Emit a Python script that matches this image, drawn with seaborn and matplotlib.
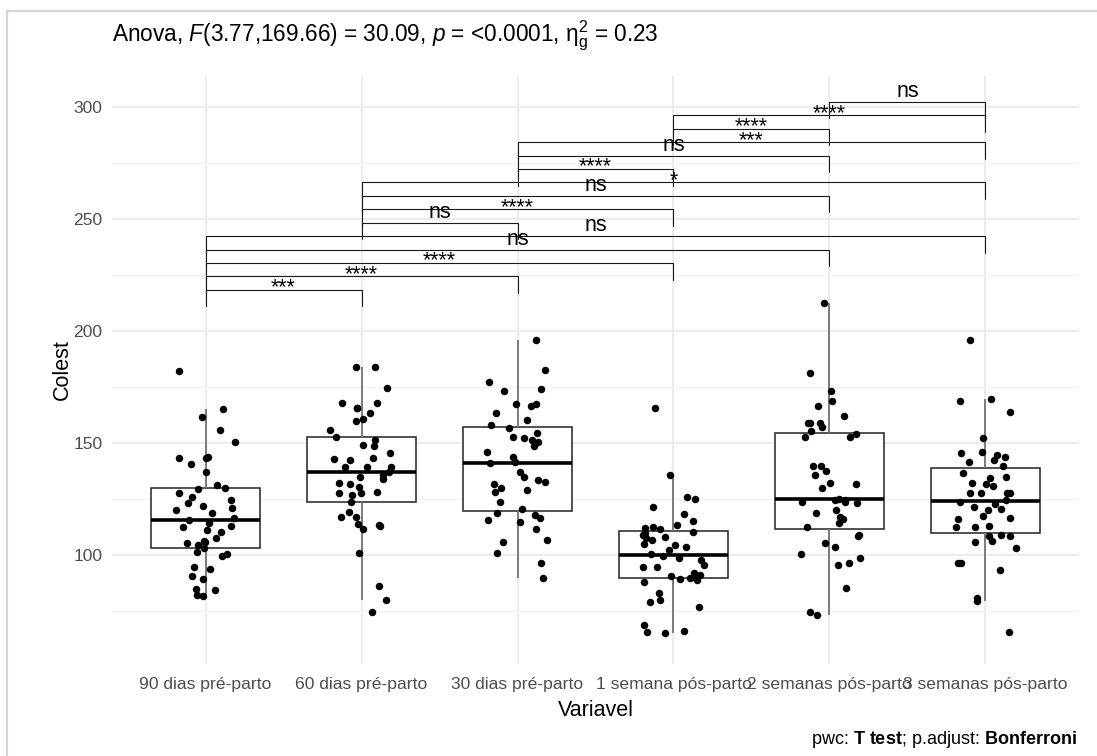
import numpy as np
import pandas as pd
import matplotlib
matplotlib.use("Agg")
import matplotlib.pyplot as plt
import seaborn as sns
from matplotlib.lines import Line2D

# ---- data -------------------------------------------------------------
groups = ["90 dias pré-parto", "60 dias pré-parto", "30 dias pré-parto",
          "1 semana pós-parto", "2 semanas pós-parto", "3 semanas pós-parto"]

colest_90_pre = [182.3, 165.2, 161.5, 155.8, 150.4, 143.5, 143.2, 143.2, 140.6,
                 136.8, 131.3, 129.8, 129.3, 127.5, 126.0, 124.3, 123.1, 121.9,
                 120.8, 120.1, 118.9, 116.4, 115.6, 114.4, 112.9, 112.6, 110.9,
                 110.4, 107.4, 106.4, 105.5, 105.9, 104.5, 103.0, 101.5, 100.3,
                 99.3, 94.5, 93.6, 90.6, 89.1, 84.7, 84.4, 82.1, 81.8]

colest_60_pre = [184.1, 184.1, 174.4, 168.0, 168.0, 165.8, 165.8, 163.2, 160.7,
                 160.0, 155.8, 152.5, 151.3, 149.1, 148.7, 145.4, 143.2, 142.7,
                 142.4, 139.1, 139.1, 139.1, 137.2, 135.7, 135.0, 133.8, 132.3,
                 131.7, 130.5, 128.3, 127.8, 127.5, 126.8, 123.4, 119.3, 117.1,
                 117.1, 113.8, 113.4, 112.9, 111.5, 100.7, 85.9, 79.9, 74.3]

colest_30_pre = [196.0, 182.6, 177.4, 174.0, 173.2, 167.4, 167.4, 166.5, 163.5,
                 160.3, 158.0, 156.5, 154.6, 152.8, 152.1, 151.3, 150.6, 148.4,
                 146.1, 143.6, 141.7, 141.2, 136.8, 134.7, 133.5, 132.7, 131.7,
                 129.8, 129.0, 128.3, 123.8, 120.4, 118.9, 117.9, 116.4, 115.6,
                 114.9, 111.5, 106.7, 105.9, 100.7, 96.6, 89.6]

colest_1sem_pos = [165.8, 135.7, 125.7, 124.9, 121.6, 118.2, 115.3, 113.4, 112.6,
                   111.9, 111.5, 110.4, 109.7, 108.9, 108.2, 107.4, 106.7, 104.8,
                   104.5, 103.7, 102.2, 100.4, 99.3, 98.5, 97.8, 95.5, 94.8, 94.8,
                   91.8, 91.1, 90.6, 89.6, 89.6, 89.1, 88.8, 88.1, 82.9, 79.9,
                   79.2, 76.6, 68.7, 66.2, 65.8, 65.0]

colest_2sem_pos = [212.4, 181.4, 173.2, 168.5, 166.5, 162.2, 159.1, 158.8, 158.8,
                   157.3, 155.1, 154.0, 152.8, 152.5, 139.7, 139.7, 137.6, 135.7,
                   132.0, 131.7, 129.8, 125.0, 124.6, 124.6, 123.8, 123.4, 123.1,
                   120.1, 118.9, 117.1, 116.0, 114.1, 112.6, 108.9, 108.5, 105.5,
                   103.7, 100.4, 98.5, 96.6, 95.5, 85.1, 74.3, 73.2]

colest_3sem_pos = [196.0, 169.5, 168.8, 164.0, 152.1, 146.1, 145.4, 144.6, 143.9,
                   142.4, 141.7, 139.7, 136.5, 135.0, 134.2, 132.3, 131.7, 130.8,
                   127.8, 127.8, 127.8, 127.8, 124.6, 123.4, 122.8, 121.6, 120.4,
                   120.1, 117.4, 116.4, 115.9, 112.9, 112.6, 112.4, 108.9, 108.5,
                   108.5, 106.4, 105.8, 103.0, 96.3, 96.3, 93.3, 80.7, 79.6, 65.8]

# pairwise t-tests (Bonferroni) between time points
comparisons = [(0, 1), (0, 2), (0, 3), (0, 4), (0, 5),
               (1, 2), (1, 3), (1, 4), (1, 5),
               (2, 3), (2, 4), (2, 5),
               (3, 4), (3, 5),
               (4, 5)]
p_signif = ["***", "****", "****", "ns", "ns",
            "ns", "****", "ns", "*",
            "****", "ns", "***",
            "****", "****",
            "ns"]
bracket_start = 218.3
bracket_step = 6.0
tip_length = 7.4

title_text = (r"Anova, $\mathit{F}$(3.77,169.66) = 30.09, $\mathit{p}$ = <0.0001, "
              r"$\mathrm{\eta}_\mathrm{g}^\mathrm{2}$ = 0.23")
caption_text = r"pwc: $\mathbf{T\ test}$; p.adjust: $\mathbf{Bonferroni}$"

series = [colest_90_pre, colest_60_pre, colest_30_pre,
          colest_1sem_pos, colest_2sem_pos, colest_3sem_pos]
df = pd.DataFrame({
    "Variavel": np.concatenate([[g] * len(v) for g, v in zip(groups, series)]),
    "Colest": np.concatenate(series),
})

# ---- style ------------------------------------------------------------
sns.set_theme(style="white")
plt.rcParams["font.family"] = ["Liberation Sans", "DejaVu Sans"]
plt.rcParams["mathtext.fontset"] = "custom"
plt.rcParams["mathtext.rm"] = "Liberation Sans"
plt.rcParams["mathtext.it"] = "Liberation Sans:italic"
plt.rcParams["mathtext.bf"] = "Liberation Sans:bold"

W, H = 1097, 756
fig = plt.figure(figsize=(W / 100, H / 100), dpi=100)
fig.patch.set_facecolor("white")

px_left, px_right, px_top, px_bottom = 112, 1079, 76, 664
ax = fig.add_axes([px_left / W, 1 - px_bottom / H,
                   (px_right - px_left) / W, (px_bottom - px_top) / H])

sns.boxplot(data=df, x="Variavel", y="Colest", order=groups, ax=ax,
            width=0.7, color="white", linecolor="#2b2b2b", linewidth=1.15,
            showfliers=False, showcaps=False,
            whiskerprops=dict(color="#7a7a7a", linewidth=1.4),
            medianprops=dict(color="black", linewidth=2.6),
            zorder=2)

np.random.seed(7)
sns.stripplot(data=df, x="Variavel", y="Colest", order=groups, ax=ax,
              color="black", size=5.4, jitter=0.2, linewidth=0, zorder=3)

ax.set_xlim(-0.6, 5.6)
ax.set_ylim(51.3, 313.8)
ax.set_yticks([100, 150, 200, 250, 300])
ax.set_yticks([75, 125, 175, 225, 275], minor=True)
ax.grid(which="major", color="#EBEBEB", linewidth=1.3)
ax.grid(which="minor", axis="y", color="#F2F2F2", linewidth=0.8)
ax.set_axisbelow(True)
for s in ax.spines.values():
    s.set_visible(False)
ax.tick_params(axis="both", which="both", length=0, colors="#4D4D4D",
               labelsize=12.6)
ax.tick_params(axis="y", pad=7)
ax.tick_params(axis="x", pad=9)
ax.set_xlabel("Variavel", fontsize=15.5, color="black", labelpad=6)
ax.set_ylabel("Colest", fontsize=15.5, color="black", labelpad=0)

# ---- significance brackets -------------------------------------------
for i, ((a, b), lab) in enumerate(zip(comparisons, p_signif)):
    y = bracket_start + bracket_step * i
    ax.plot([a, a, b, b], [y - tip_length, y, y, y - tip_length],
            color="#1a1a1a", linewidth=0.8, zorder=4, solid_joinstyle="miter")
    off = 3.4 if lab == "ns" else -2.6
    ax.annotate(lab, xy=((a + b) / 2, y), xytext=(0, off),
                textcoords="offset points", ha="center", va="baseline",
                fontsize=15.5, color="black", zorder=5)

# ---- title, caption, frame -------------------------------------------
fig.text(px_left / W, 1 - 41 / H, title_text, fontsize=16.3,
         ha="left", va="baseline", color="black")
fig.text(1077 / W, 1 - 743.5 / H, caption_text, fontsize=13,
         ha="right", va="baseline", color="black")

frame_color = "#D6D6D6"
fig.add_artist(Line2D([7 / W, 1], [1 - 10.5 / H, 1 - 10.5 / H],
                      transform=fig.transFigure, color=frame_color, linewidth=1.6))
fig.add_artist(Line2D([7 / W, 7 / W], [0, 1 - 10.5 / H],
                      transform=fig.transFigure, color=frame_color, linewidth=1.6))

fig.savefig("out.png", dpi=100, facecolor="white")
